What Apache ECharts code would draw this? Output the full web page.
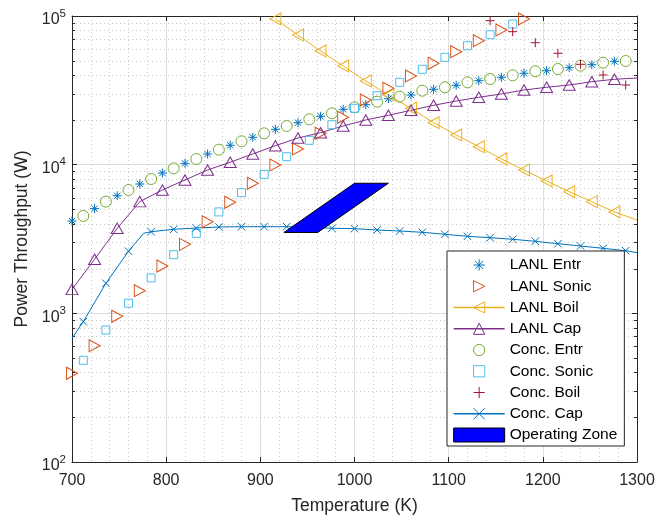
<!DOCTYPE html>
<html>
<head>
<meta charset="utf-8">
<script src="https://cdn.jsdelivr.net/npm/echarts@6/dist/echarts.min.js"></script>
<style>
  html, body { margin: 0; padding: 0; background: #ffffff; }
  #chart { width: 657px; height: 517px; }
</style>
</head>
<body>
<div id="chart"></div>
<script>
// Heat-pipe power limits versus operating temperature.
// Temperatures in K, throughput in W.

const lanlEntrT = [700, 724, 748, 772, 796, 820, 844, 868, 892, 916, 940, 964, 988, 1012, 1036, 1060, 1084, 1108, 1132, 1156, 1180, 1204, 1228, 1252, 1276];
const lanlEntr  = [4180, 5060, 6180, 7410, 8790, 10210, 11790, 13500, 15280, 17290, 19150, 21150, 23570, 25310, 27780, 29400, 32130, 34190, 36720, 38700, 41170, 42860, 44910, 47030, 49580];

const lanlSonicT = [700, 724, 748, 772, 796, 820, 844, 868, 892, 916, 940, 964, 988, 1012, 1036, 1060, 1084, 1108, 1132, 1156, 1180];
const lanlSonic  = [395, 606, 955, 1420, 2080, 2910, 4130, 5580, 7490, 9950, 12750, 16250, 20830, 27230, 32640, 39480, 48070, 57540, 68210, 80530, 95460];

const lanlBoilT = [916, 940, 964, 988, 1012, 1036, 1060, 1084, 1108, 1132, 1156, 1180, 1204, 1228, 1252, 1276, 1300];
const lanlBoil  = [95460, 74500, 58170, 46100, 36530, 29420, 23940, 19160, 15840, 13210, 10920, 9210, 7770, 6580, 5640, 4810, 4240];

const lanlCapT = [700, 724, 748, 772, 796, 820, 844, 868, 892, 916, 940, 964, 988, 1012, 1036, 1060, 1084, 1108, 1132, 1156, 1180, 1204, 1228, 1252, 1276, 1300];
const lanlCap  = [1450, 2310, 3730, 5640, 6760, 7890, 9210, 10380, 11800, 13420, 15110, 16410, 18200, 19980, 21480, 23210, 25070, 26810, 28390, 29890, 31780, 33150, 34350, 36150, 37520, 38300];

const concEntrT = [712, 736, 760, 784, 808, 832, 856, 880, 904, 928, 952, 976, 1000, 1024, 1048, 1072, 1096, 1120, 1144, 1168, 1192, 1216, 1240, 1264, 1288];
const concEntr  = [4520, 5640, 6760, 8010, 9450, 10920, 12610, 14360, 16250, 18200, 20190, 22160, 24320, 26530, 28660, 31440, 33150, 35810, 37690, 39920, 42460, 44020, 46330, 48540, 49810];

const concSonicT = [712, 736, 760, 784, 808, 832, 856, 880, 904, 928, 952, 976, 1000, 1024, 1048, 1072, 1096, 1120, 1144, 1168];
const concSonic  = [483, 773, 1170, 1730, 2480, 3450, 4810, 6480, 8610, 11310, 14580, 18570, 23940, 29100, 35810, 43810, 52760, 63120, 74840, 88330];

const concBoilT = [1144, 1168, 1192, 1216, 1240, 1264, 1288];
const concBoil  = [93000, 78430, 66130, 56130, 47330, 40100, 34350];

const concCapT = [700, 712, 736, 760, 776, 784, 808, 832, 856, 880, 904, 928, 952, 976, 1000, 1024, 1048, 1072, 1096, 1120, 1144, 1168, 1192, 1216, 1240, 1264, 1288, 1300];
const concCap  = [679, 879, 1593, 2618, 3454, 3541, 3675, 3750, 3809, 3826, 3826, 3826, 3800, 3733, 3710, 3636, 3579, 3508, 3401, 3297, 3227, 3148, 3052, 2940, 2838, 2738, 2638, 2558];

// Curve points that carry no marker (line ends and the knee)
const lanlBoilNoMark = [1300];
const lanlCapNoMark  = [1300];
const concCapNoMark  = [700, 776, 1300];

// Operating zone corners
const zoneT = [925, 961, 1036, 1000];
const zoneP = [3500, 3500, 7500, 7500];

// Axis ranges and ticks
const xMin = 700, xMax = 1300, xStep = 100;
const yMin = 100, yMax = 100000;

const FONT = "'Liberation Sans', Arial, Helvetica, sans-serif";
const AXIS_COLOR = '#262626';

// MATLAB-style marker shapes
const SYM = {
  asterisk: 'path://M5,0L5,10M0,5L10,5M1.5,1.5L8.5,8.5M8.5,1.5L1.5,8.5',
  triRight: 'path://M0,0L10,5L0,10Z',
  triLeft:  'path://M10,0L0,5L10,10Z',
  triUp:    'path://M5,0L10,10L0,10Z',
  circle:   'circle',
  square:   'rect',
  plus:     'path://M5,0L5,10M0,5L10,5',
  cross:    'path://M0,0L10,10M10,0L0,10'
};

const defs = [
  { name: 'LANL Entr',   t: lanlEntrT,  v: lanlEntr,  sym: SYM.asterisk, size: 9,        color: '#0072BD', line: false, noMark: [] },
  { name: 'LANL Sonic',  t: lanlSonicT, v: lanlSonic, sym: SYM.triRight, size: [11, 12], color: '#D95319', line: false, noMark: [] },
  { name: 'LANL Boil',   t: lanlBoilT,  v: lanlBoil,  sym: SYM.triLeft,  size: [11, 12], color: '#EDB120', line: true,  noMark: lanlBoilNoMark },
  { name: 'LANL Cap',    t: lanlCapT,   v: lanlCap,   sym: SYM.triUp,    size: [12, 10.5], color: '#7E2F8E', line: true,  noMark: lanlCapNoMark },
  { name: 'Conc. Entr',  t: concEntrT,  v: concEntr,  sym: SYM.circle,   size: 11,       color: '#77AC30', line: false, noMark: [] },
  { name: 'Conc. Sonic', t: concSonicT, v: concSonic, sym: SYM.square,   size: 8,        color: '#4DBEEE', line: false, noMark: [] },
  { name: 'Conc. Boil',  t: concBoilT,  v: concBoil,  sym: SYM.plus,     size: 9,        color: '#A2142F', line: false, noMark: [] },
  { name: 'Conc. Cap',   t: concCapT,   v: concCap,   sym: SYM.cross,    size: 7.5,      color: '#0072BD', line: true,  noMark: concCapNoMark }
];

const dataSeries = defs.map(d => ({
  type: 'line',
  name: d.name,
  data: d.t.map((t, i) => d.noMark.indexOf(t) >= 0
    ? { value: [t, d.v[i]], symbol: 'none' }
    : [t, d.v[i]]),
  symbol: d.sym,
  symbolSize: d.size,
  showSymbol: true,
  clip: false,
  silent: true,
  animation: false,
  z: 3,
  lineStyle: d.line ? { color: d.color, width: 1 } : { color: d.color, width: 1, opacity: 0 },
  itemStyle: { color: 'rgba(0,0,0,0)', borderColor: d.color, borderWidth: 1 },
  emphasis: { disabled: true }
}));

// Minor log grid values (2..9 times each decade)
const yMinorValues = [];
for (let e = 2; e < 5; e++) {
  for (let m = 2; m <= 9; m++) yMinorValues.push(m * Math.pow(10, e));
}

const minorGridSeries = {
  type: 'custom',
  name: 'minor-grid',
  coordinateSystem: 'cartesian2d',
  silent: true,
  animation: false,
  z: 1,
  data: yMinorValues.map(v => [xMin, v]),
  encode: { x: 0, y: 1 },
  renderItem: function (params, api) {
    const v = api.value(1);
    const a = api.coord([xMin, v]);
    const b = api.coord([xMax, v]);
    const y = Math.round(a[1]) + 0.5;
    return {
      type: 'group',
      children: [
        { type: 'line', shape: { x1: a[0], y1: y, x2: b[0], y2: y },
          style: { stroke: '#c8c8c8', lineWidth: 1, lineDash: [1, 3] } },
        { type: 'line', shape: { x1: a[0], y1: y, x2: a[0] + 3, y2: y },
          style: { stroke: AXIS_COLOR, lineWidth: 1 } },
        { type: 'line', shape: { x1: b[0] - 3, y1: y, x2: b[0], y2: y },
          style: { stroke: AXIS_COLOR, lineWidth: 1 } }
      ]
    };
  }
};

const zoneSeries = {
  type: 'custom',
  name: 'Operating Zone',
  coordinateSystem: 'cartesian2d',
  silent: true,
  animation: false,
  z: 5,
  data: [[zoneT[0], zoneP[0]]],
  encode: { x: 0, y: 1 },
  itemStyle: { color: '#0000FF', borderColor: '#000000', borderWidth: 1 },
  renderItem: function (params, api) {
    return {
      type: 'polygon',
      shape: { points: zoneT.map((t, i) => api.coord([t, zoneP[i]])) },
      style: { fill: '#0000FF', stroke: '#000000', lineWidth: 1 }
    };
  }
};

const legendData = defs.map(d => ({
  name: d.name,
  itemStyle: { color: 'rgba(0,0,0,0)', borderColor: d.color, borderWidth: 1 },
  lineStyle: d.line ? { color: d.color, width: 1.3, opacity: 1 } : { color: d.color, width: 1, opacity: 0 }
}));
legendData.push({
  name: 'Operating Zone',
  icon: 'rect',
  itemStyle: { color: '#0000FF', borderColor: '#000000', borderWidth: 1 }
});

const commonX = {
  type: 'value', min: xMin, max: xMax, interval: xStep
};

const option = {
  animation: false,
  backgroundColor: '#ffffff',
  textStyle: { fontFamily: FONT },
  grid: { left: 72, right: 20, top: 16, bottom: 55, containLabel: false, outerBoundsMode: 'none' },
  legend: {
    orient: 'vertical',
    left: 447,
    top: 251,
    padding: [6, 7, 3, 6],
    itemWidth: 51,
    itemHeight: 14,
    itemGap: 5.25,
    selectedMode: false,
    backgroundColor: '#ffffff',
    borderColor: AXIS_COLOR,
    borderWidth: 1,
    borderRadius: 0,
    itemStyle: { borderWidth: 1 },
    textStyle: { fontSize: 15.5, color: '#000000', fontFamily: FONT, lineHeight: 16 },
    data: legendData
  },
  xAxis: [
    Object.assign({}, commonX, {
      position: 'bottom',
      name: 'Temperature (K)',
      nameLocation: 'middle',
      nameGap: 35,
      nameTextStyle: { fontSize: 17.5, color: AXIS_COLOR, fontFamily: FONT },
      axisLine: { show: true, onZero: false, lineStyle: { color: AXIS_COLOR, width: 1 } },
      axisTick: { show: true, inside: true, length: 5, lineStyle: { color: AXIS_COLOR } },
      axisLabel: {
        fontSize: 16, color: AXIS_COLOR, margin: 11, showMinLabel: true, showMaxLabel: true, fontFamily: FONT,
        formatter: function (v) { return String(v); }
      },
      splitLine: { show: true, lineStyle: { color: '#dedede', width: 1 } },
      minorTick: { show: false, splitNumber: 5 },
      minorSplitLine: { show: true, lineStyle: { color: '#c8c8c8', width: 1, type: [1, 3] } }
    }),
    Object.assign({}, commonX, {
      position: 'top',
      axisLine: { show: true, onZero: false, lineStyle: { color: AXIS_COLOR, width: 1 } },
      axisTick: { show: true, inside: true, length: 5, lineStyle: { color: AXIS_COLOR } },
      axisLabel: { show: false },
      splitLine: { show: false }
    })
  ],
  yAxis: [
    {
      type: 'log', logBase: 10, min: yMin, max: yMax,
      position: 'left',
      name: 'Power Throughput (W)',
      nameLocation: 'middle',
      nameGap: 40,
      nameTextStyle: { fontSize: 17.5, color: AXIS_COLOR, fontFamily: FONT },
      axisLine: { show: true, onZero: false, lineStyle: { color: AXIS_COLOR, width: 1 } },
      axisTick: { show: true, inside: true, length: 5, lineStyle: { color: AXIS_COLOR } },
      axisLabel: {
        margin: 6,
        showMinLabel: true,
        showMaxLabel: true,
        formatter: function (v) {
          return '{b|10}{s|' + Math.round(Math.log10(v)) + '}';
        },
        rich: {
          b: { fontSize: 16, color: AXIS_COLOR, fontFamily: FONT, padding: [8, 0, 0, 0] },
          s: { fontSize: 11.5, color: AXIS_COLOR, fontFamily: FONT, padding: [0, 0, 5, 0] }
        }
      },
      splitLine: { show: true, lineStyle: { color: '#dedede', width: 1 } }
    },
    {
      type: 'log', logBase: 10, min: yMin, max: yMax,
      position: 'right',
      axisLine: { show: true, onZero: false, lineStyle: { color: AXIS_COLOR, width: 1 } },
      axisTick: { show: true, inside: true, length: 5, lineStyle: { color: AXIS_COLOR } },
      axisLabel: { show: false },
      splitLine: { show: false }
    }
  ],
  series: [minorGridSeries].concat(dataSeries, [zoneSeries])
};

const chart = echarts.init(document.getElementById('chart'), null, { renderer: 'canvas' });
chart.setOption(option);
</script>
</body>
</html>
